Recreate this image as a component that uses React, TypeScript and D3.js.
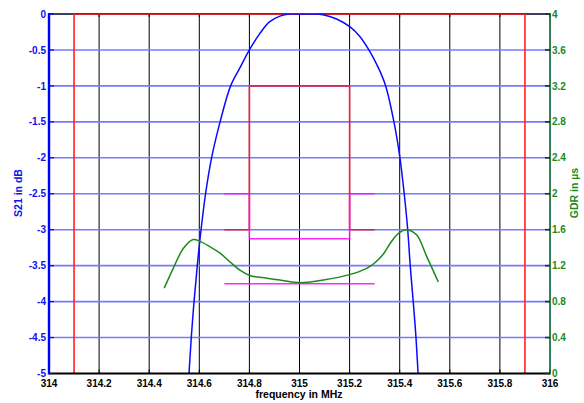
import React from "react";
import * as d3 from "d3";

// ---- data ----
const xTicks = [314, 314.2, 314.4, 314.6, 314.8, 315, 315.2, 315.4, 315.6, 315.8, 316];
const xTickLabels = ["314", "314.2", "314.4", "314.6", "314.8", "315", "315.2", "315.4", "315.6", "315.8", "316"];
const yLeftTicks = [0, -0.5, -1, -1.5, -2, -2.5, -3, -3.5, -4, -4.5, -5];
const yRightTicks = [4, 3.6, 3.2, 2.8, 2.4, 2, 1.6, 1.2, 0.8, 0.4, 0];

const s21Freq = [314.552, 314.568, 314.579, 314.592, 314.607, 314.625, 314.649, 314.683, 314.725, 314.762, 314.8, 314.84, 314.88, 314.922, 314.96, 315.0, 315.05, 315.094, 315.148, 315.202, 315.24, 315.277, 315.315, 315.344, 315.377, 315.401, 315.418, 315.432, 315.442, 315.454, 315.465, 315.478];
const s21dB = [-5.4, -4.5, -4, -3.5, -3, -2.5, -2, -1.5, -1, -0.75, -0.5, -0.28, -0.11, -0.03, 0, 0, 0, -0.01, -0.07, -0.18, -0.31, -0.5, -0.75, -1, -1.5, -2, -2.5, -3, -3.5, -4, -4.5, -5.3];

const gdrFreq = [314.46, 314.496, 314.536, 314.576, 314.603, 314.643, 314.683, 314.723, 314.762, 314.802, 314.869, 314.922, 315.002, 315.095, 315.2, 315.268, 315.3, 315.335, 315.365, 315.395, 315.428, 315.468, 315.508, 315.554];
const gdrUs = [0.95, 1.17, 1.39, 1.49, 1.47, 1.41, 1.34, 1.24, 1.15, 1.09, 1.06, 1.04, 1.01, 1.04, 1.1, 1.17, 1.23, 1.33, 1.46, 1.56, 1.6, 1.54, 1.3, 1.02];

// S21 mask (dB): [f1, v1, f2, v2]
const s21MaskOuter = [
  [314.1, 0, 315.9, 0],
  [314.1, 0, 314.1, -5],
  [315.9, 0, 315.9, -5],
];
const s21MaskInner = [
  [314.8, -1, 315.2, -1],
  [314.8, -1, 314.8, -3],
  [315.2, -1, 315.2, -3],
  [314.7, -3, 314.8, -3],
  [315.2, -3, 315.3, -3],
];
// GDR mask (µs)
const gdrMask = [
  [314.7, 2, 314.8, 2],
  [315.2, 2, 315.3, 2],
  [314.8, 2, 314.8, 1.5],
  [315.2, 2, 315.2, 1.5],
  [314.8, 1.5, 315.2, 1.5],
  [314.7, 1, 315.3, 1],
];

const W = 584, H = 403;
const L = 49, R = 550, T = 14, B = 373.5;

export default function App() {
  const x = d3.scaleLinear().domain([314, 316]).range([L, R]);
  const yL = d3.scaleLinear().domain([-5, 0]).range([B, T]);
  const yR = d3.scaleLinear().domain([0, 4]).range([B, T]);

  const s21Line = d3.line<number>().x((_, i) => x(s21Freq[i])).y((d) => yL(d)).curve(d3.curveCatmullRom.alpha(0.5));
  const gdrLine = d3.line<number>().x((_, i) => x(gdrFreq[i])).y((d) => yR(d)).curve(d3.curveCatmullRom.alpha(0.5));

  const font = "'Liberation Sans', Arial, sans-serif";
  const blue = "#1010f0";
  const green = "#1a8a1a";

  return (
    <div style={{ position: "absolute", left: 0, top: 0 }}>
      <svg width={W} height={H} style={{ display: "block", background: "#fff" }}>
        <defs>
          <clipPath id="plot">
            <rect x={L} y={T} width={R - L} height={B - T} />
          </clipPath>
        </defs>
        {/* vertical grid */}
        {xTicks.slice(1, -1).map((t) => (
          <line key={"vg" + t} x1={x(t)} x2={x(t)} y1={T} y2={B} stroke="#000" strokeWidth={1} />
        ))}
        {/* horizontal grid */}
        {yLeftTicks.slice(1, -1).map((t) => (
          <line key={"hg" + t} x1={L} x2={R} y1={yL(t)} y2={yL(t)} stroke="#7878ff" strokeWidth={1.6} />
        ))}
        {/* top border */}
        <line x1={L} x2={R} y1={T} y2={T} stroke="#000030" strokeWidth={1.5} />
        {/* top ticks */}
        {xTicks.map((t) => (
          <line key={"tt" + t} x1={x(t)} x2={x(t)} y1={T} y2={T + 3} stroke="#000" strokeWidth={1} />
        ))}
        {/* masks */}
        <g clipPath="url(#plot)">
          {s21MaskOuter.map((m, i) => (
            <line key={"mo" + i} x1={x(m[0])} y1={yL(m[1])} x2={x(m[2])} y2={yL(m[3])} stroke="#ff2020" strokeWidth={1.6} />
          ))}
          {s21MaskInner.map((m, i) => (
            <line key={"mi" + i} x1={x(m[0])} y1={yL(m[1])} x2={x(m[2])} y2={yL(m[3])} stroke="#e8203c" strokeWidth={1.6} />
          ))}
          {gdrMask.map((m, i) => (
            <line key={"gm" + i} x1={x(m[0])} y1={yR(m[1])} x2={x(m[2])} y2={yR(m[3])} stroke="#ff10ff" strokeWidth={1.5} opacity={0.9} />
          ))}
          <path d={s21Line(s21dB) || ""} fill="none" stroke="#0a0aff" strokeWidth={1.5} />
          <path d={gdrLine(gdrUs) || ""} fill="none" stroke={green} strokeWidth={1.5} />
        </g>
        {/* axes */}
        <line x1={L} x2={R} y1={B} y2={B} stroke="#000" strokeWidth={2.2} />
        {xTicks.map((t) => (
          <line key={"bt" + t} x1={x(t)} x2={x(t)} y1={B} y2={B - 4} stroke="#000" strokeWidth={1} />
        ))}
        <line x1={L} x2={L} y1={T - 1} y2={B + 1} stroke="#0000ff" strokeWidth={2.4} />
        {yLeftTicks.map((t) => (
          <line key={"lt" + t} x1={L} x2={L + 5} y1={yL(t)} y2={yL(t)} stroke="#0000ff" strokeWidth={1.2} />
        ))}
        <line x1={R} x2={R} y1={T - 1} y2={B + 1} stroke="#006030" strokeWidth={1.6} />
        {yRightTicks.map((t) => (
          <line key={"rt" + t} x1={R - 5} x2={R} y1={yR(t)} y2={yR(t)} stroke="#004020" strokeWidth={1.6} />
        ))}
        {/* tick labels */}
        {xTicks.map((t, i) => (
          <text key={"xl" + t} x={x(t)} y={386.5} textAnchor="middle" fontFamily={font} fontWeight="bold" fontSize={10} fill="#000">
            {xTickLabels[i]}
          </text>
        ))}
        {yLeftTicks.map((t) => (
          <text key={"yl" + t} x={46} y={yL(t) + 3.6} textAnchor="end" fontFamily={font} fontWeight="bold" fontSize={10} fill={blue}>
            {String(t)}
          </text>
        ))}
        {yRightTicks.map((t) => (
          <text key={"yr" + t} x={552} y={yR(t) + 3.6} textAnchor="start" fontFamily={font} fontWeight="bold" fontSize={10} fill={green}>
            {String(t)}
          </text>
        ))}
        {/* axis labels */}
        <text x={299} y={398} textAnchor="middle" fontFamily={font} fontWeight="bold" fontSize={10.5} fill="#000">
          frequency in MHz
        </text>
        <text transform="translate(22,193) rotate(-90)" textAnchor="middle" fontFamily={font} fontWeight="bold" fontSize={10.5} fill={blue}>
          S21 in dB
        </text>
        <text transform="translate(578,193) rotate(-90)" textAnchor="middle" fontFamily={font} fontWeight="bold" fontSize={10.5} fill={green}>
          GDR in µs
        </text>
      </svg>
    </div>
  );
}
